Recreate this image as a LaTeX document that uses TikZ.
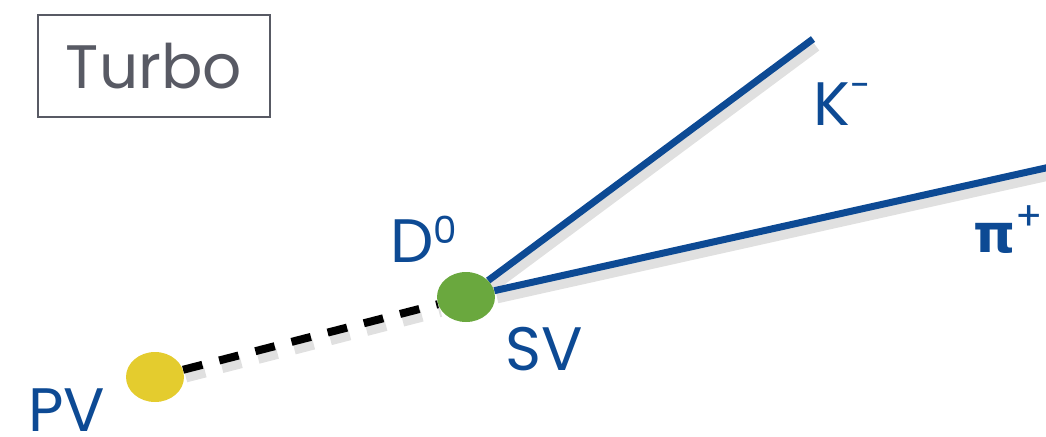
\documentclass[tikz,border=0pt]{standalone}
\usepackage{fontspec}
\setmainfont{Poppins}
\newfontfamily\grkfont{DejaVu Sans}
\usetikzlibrary{positioning, calc, shapes.geometric}
\definecolor{trackblue}{RGB}{13,74,148}
\definecolor{boxgray}{RGB}{88,90,100}
\definecolor{svgreen}{RGB}{106,168,62}
\definecolor{pvyellow}{RGB}{228,204,46}

\begin{document}
\begin{tikzpicture}[x=0.75pt, y=-0.75pt,
	lbl/.style={anchor=base west, inner sep=0pt, text=trackblue, font=\fontsize{46}{50}\selectfont},
	vtx/.style={shape=ellipse, minimum width=43.5pt, minimum height=37.5pt, inner sep=0pt},
	shade/.style={preaction={draw=black, opacity=0.12, line width=9pt, #1, transform canvas={shift={(2pt,-5pt)}}}},
	track/.style={draw=trackblue, line width=5.25pt, shade=solid},
	flight/.style={draw=black, line width=6pt, dash pattern=on 15pt off 13pt, shade={dash pattern=on 15pt off 13pt}}]
	\useasboundingbox (0,0) rectangle (1046,436);

	\node[draw=boxgray, line width=1.5pt, minimum width=174pt, minimum height=76.5pt, text=boxgray, font=\fontsize{46}{50}\selectfont] (turbo) at (154,66) {Turbo};

	\coordinate (kend) at (813,39);
	\coordinate (piend) at (1050,167);
	\node[vtx] (sv) at (466,297) {};
	\node[vtx] (pv) at (155,377) {};

	\path[track] (sv) -- (kend);
	\path[track] (sv) -- (piend);
	\path[flight] (pv) -- (sv);
	\node[vtx, fill=svgreen] at (sv) {};
	\node[vtx, fill=pvyellow] at (pv) {};

	\node[lbl] (dzero) at (390,262) {D\raisebox{14pt}{\fontsize{28}{28}\selectfont 0}};
	\node[lbl] (svlbl) at (505,370) {SV};
	\node[lbl] (pvlbl) at (28,431) {PV};
	\node[lbl] (kminus) at (813,125) {K\raisebox{20pt}{\fontsize{28}{28}\selectfont -}};
	\node[lbl] (piplus) at (973,252) {{\grkfont\fontsize{40}{40}\selectfont\bfseries π}\raisebox{16pt}{\fontsize{30}{30}\selectfont +}};
\end{tikzpicture}
\end{document}
